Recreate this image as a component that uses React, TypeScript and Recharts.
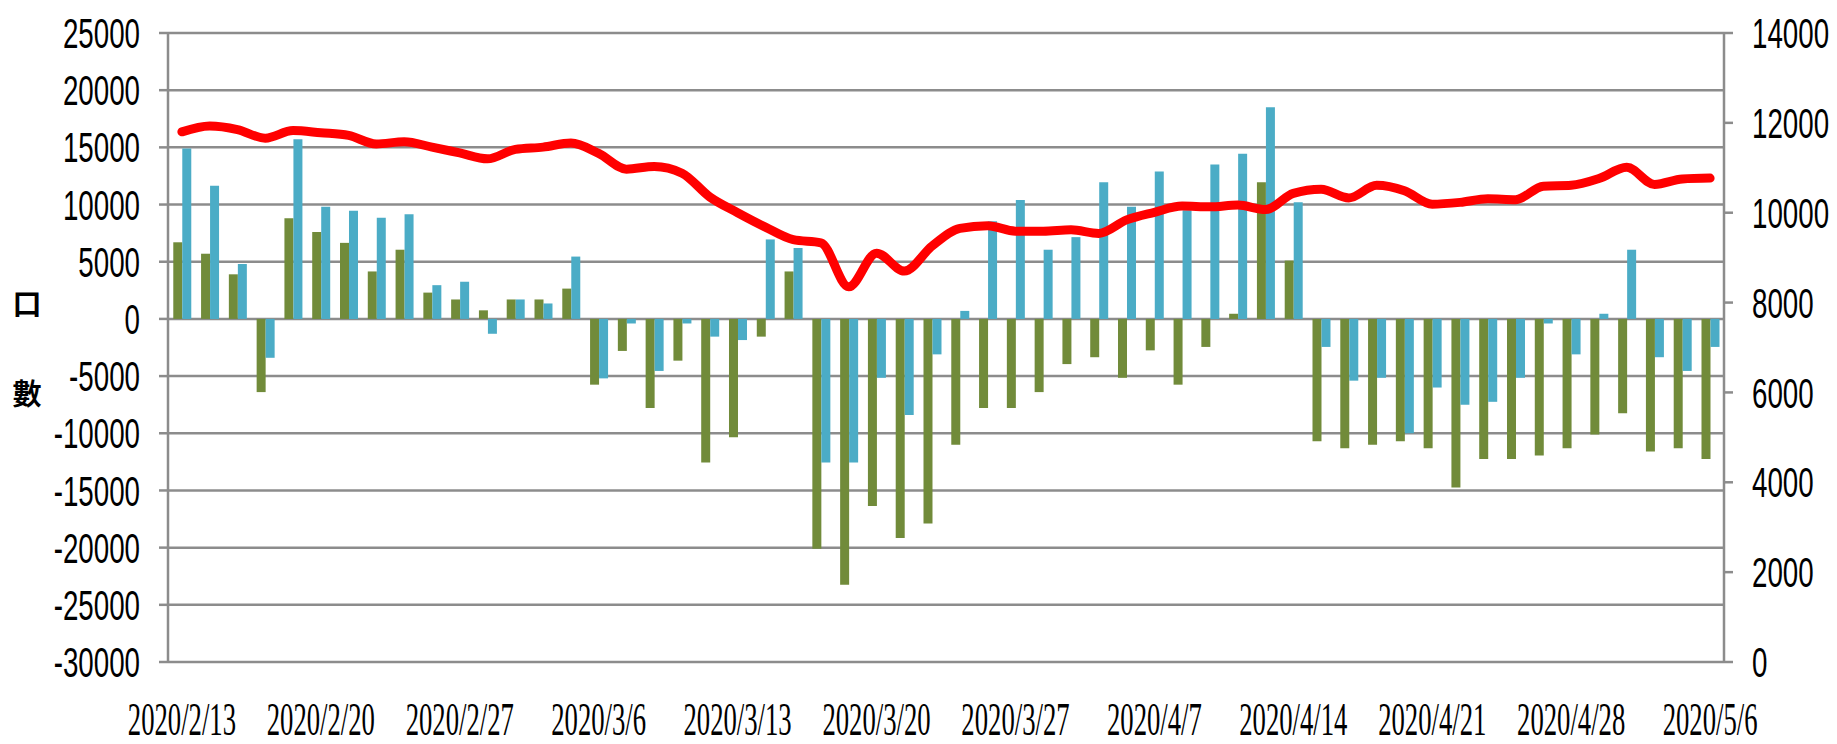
import { ComposedChart, Bar, Line, XAxis, YAxis, CartesianGrid } from "recharts";

const dates = [
  "2020/2/13", "2020/2/14", "2020/2/17", "2020/2/18", "2020/2/19", "2020/2/20", "2020/2/21", "2020/2/24", "2020/2/25", "2020/2/26",
  "2020/2/27", "2020/3/2", "2020/3/3", "2020/3/4", "2020/3/5", "2020/3/6", "2020/3/9", "2020/3/10", "2020/3/11", "2020/3/12",
  "2020/3/13", "2020/3/16", "2020/3/17", "2020/3/18", "2020/3/19", "2020/3/20", "2020/3/23", "2020/3/24", "2020/3/25", "2020/3/26",
  "2020/3/27", "2020/3/30", "2020/3/31", "2020/4/1", "2020/4/6", "2020/4/7", "2020/4/8", "2020/4/9", "2020/4/10", "2020/4/13",
  "2020/4/14", "2020/4/15", "2020/4/16", "2020/4/17", "2020/4/20", "2020/4/21", "2020/4/22", "2020/4/23", "2020/4/24", "2020/4/27",
  "2020/4/28", "2020/4/29", "2020/4/30", "2020/5/4", "2020/5/5", "2020/5/6",
];

// green bars (left axis)
const greenValues = [
  6700, 5700, 3900, -6400, 8800, 7600, 6650, 4150, 6050, 2300,
  1700, 750, 1700, 1700, 2650, -5750, -2800, -7800, -3650, -12550,
  -10350, -1550, 4150, -20100, -23250, -16350, -19150, -17900, -11000, -7800,
  -7800, -6400, -3950, -3350, -5150, -2750, -5750, -2450, 450, 11950,
  5100, -10700, -11300, -11000, -10700, -11300, -14750, -12250, -12250, -11950,
  -11300, -10100, -8250, -11600, -11300, -12250,
];

// blue bars (left axis)
const blueValues = [
  14900, 11650, 4800, -3400, 15700, 9800, 9450, 8850, 9150, 2950,
  3250, -1300, 1700, 1350, 5450, -5200, -400, -4550, -400, -1550,
  -1850, 6950, 6200, -12550, -12550, -5150, -8400, -3100, 700, 8550,
  10400, 6050, 7150, 11950, 9800, 12900, 9500, 13500, 14450, 18500,
  10200, -2450, -5400, -5150, -10000, -6000, -7500, -7250, -5150, -400,
  -3100, 450, 6050, -3350, -4550, -2450,
];

// red line (right axis)
const lineValues = [
  11800, 11930, 11850, 11660, 11830, 11780, 11720, 11530, 11580, 11460,
  11330, 11200, 11410, 11460, 11550, 11320, 10970, 11030, 10880, 10350,
  10000, 9680, 9400, 9330, 8350, 9100, 8700, 9260, 9650, 9710,
  9590, 9590, 9620, 9540, 9840, 10010, 10150, 10130, 10170, 10070,
  10430, 10520, 10330, 10610, 10490, 10190, 10230, 10310, 10290, 10590,
  10610, 10760, 11010, 10630, 10750, 10770,
];

const leftTicks = [-30000, -25000, -20000, -15000, -10000, -5000, 0, 5000, 10000, 15000, 20000, 25000];
const rightTicks = [0, 2000, 4000, 6000, 8000, 10000, 12000, 14000];

const data = dates.map((date, i) => ({
  date,
  green: greenValues[i],
  blue: blueValues[i],
  line: lineValues[i],
}));

const gridColor = "#8c8c8c";
const numFont = "'Liberation Sans', Arial, sans-serif";

const LeftTick = ({ x, y, payload }: any) => (
  <text
    transform={`translate(${x - 17},${y}) scale(0.66,1)`}
    textAnchor="end"
    dy="0.36em"
    fontSize={42}
    fontFamily={numFont}
    fill="#000"
  >
    {payload.value}
  </text>
);

const RightTick = ({ x, y, payload }: any) => (
  <text
    transform={`translate(${x + 17},${y}) scale(0.66,1)`}
    textAnchor="start"
    dy="0.36em"
    fontSize={42}
    fontFamily={numFont}
    fill="#000"
  >
    {payload.value}
  </text>
);

const DateTick = ({ x, y, payload }: any) => (
  <text
    transform={`translate(${x},${y + 65}) scale(0.58,1)`}
    textAnchor="middle"
    fontSize={46}
    fontFamily="'Liberation Serif', 'Times New Roman', serif"
    fill="#000"
  >
    {payload.value}
  </text>
);

export default function App() {
  return (
    <div style={{ position: "absolute", left: 0, top: 0, width: 1837, height: 744, background: "#fff" }}>
      <ComposedChart
        width={1837}
        height={744}
        data={data}
        margin={{ top: 33, right: 0, bottom: 0, left: 0 }}
        barCategoryGap="19%"
        barGap={0}
      >
        <CartesianGrid
          yAxisId="left"
          vertical={false}
          stroke={gridColor}
          strokeWidth={2.5}
        />
        <XAxis
          dataKey="date"
          height={82}
          interval={4}
          tickLine={false}
          axisLine={false}
          tick={<DateTick />}
        />
        <YAxis
          yAxisId="left"
          width={168}
          domain={[-30000, 25000]}
          ticks={leftTicks}
          interval={0}
          tickSize={9}
          tickLine={{ stroke: gridColor, strokeWidth: 2.5 }}
          axisLine={{ stroke: gridColor, strokeWidth: 2.5 }}
          tick={<LeftTick />}
        />
        <YAxis
          yAxisId="right"
          orientation="right"
          width={113}
          domain={[0, 14000]}
          ticks={rightTicks}
          interval={0}
          tickSize={9}
          tickLine={{ stroke: gridColor, strokeWidth: 2.5 }}
          axisLine={{ stroke: gridColor, strokeWidth: 2.5 }}
          tick={<RightTick />}
        />
        <Bar yAxisId="left" dataKey="green" fill="#718b3a" isAnimationActive={false} />
        <Bar yAxisId="left" dataKey="blue" fill="#4bacc6" isAnimationActive={false} />
        <Line
          yAxisId="right"
          type="monotone"
          dataKey="line"
          stroke="#ff0000"
          strokeWidth={9}
          strokeLinecap="round"
          dot={false}
          activeDot={false}
          isAnimationActive={false}
        />
      </ComposedChart>
      <div
        style={{
          position: "absolute",
          left: 12,
          top: 257,
          width: 30,
          fontSize: 29,
          lineHeight: "90px",
          fontWeight: 700,
          fontFamily: "'Noto Sans CJK TC', sans-serif",
          textAlign: "center",
          color: "#000",
        }}
      >
        <div>口</div>
        <div>數</div>
      </div>
    </div>
  );
}
